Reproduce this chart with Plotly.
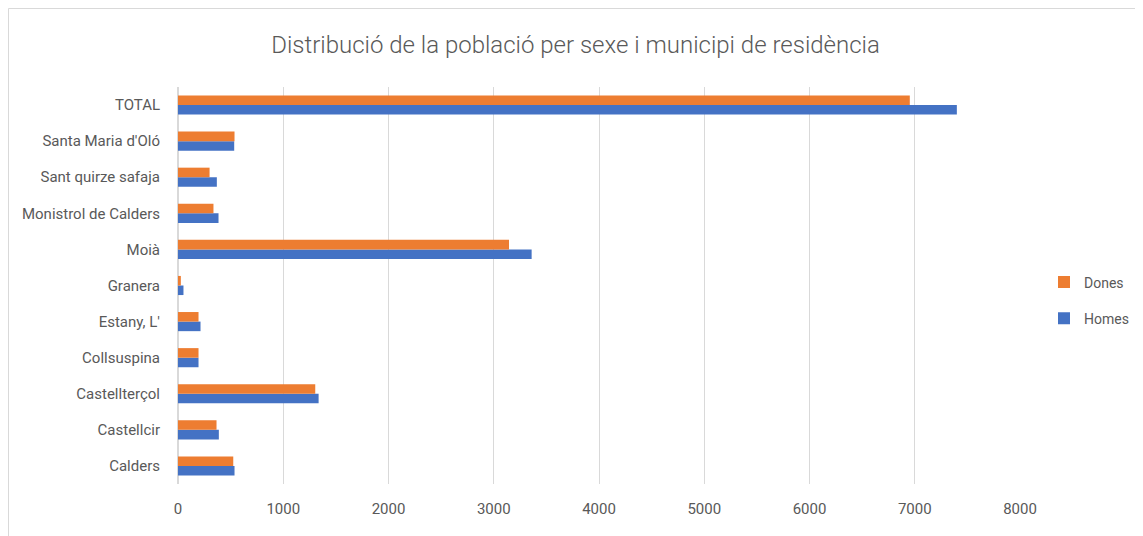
import plotly.graph_objects as go

# municipis (de baix a dalt, com a l'eix del gràfic)
municipis = ["Calders", "Castellcir", "Castellterçol", "Collsuspina", "Estany, L'",
             "Granera", "Moià", "Monistrol de Calders", "Sant quirze safaja",
             "Santa Maria d'Oló", "TOTAL"]
homes = [537, 388, 1336, 195, 214, 52, 3360, 385, 369, 534, 7400]
dones = [525, 366, 1304, 195, 195, 27, 3145, 337, 300, 537, 6953]
ticks_x = [0, 1000, 2000, 3000, 4000, 5000, 6000, 7000, 8000]

FONT = "Roboto, sans-serif"
GRIS = "#595959"

fig = go.Figure()
fig.add_trace(go.Bar(y=municipis, x=homes, name="Homes", orientation="h",
                     legendgroup="h", legendrank=2,
                     marker=dict(color="#4472C4", line=dict(width=0))))
fig.add_trace(go.Bar(y=municipis, x=dones, name="Dones", orientation="h",
                     legendgroup="d", legendrank=1,
                     marker=dict(color="#ED7D31", line=dict(width=0))))

# la pàgina té 8 px de marge al body, per això la figura és més petita
W, H = 1135, 528
l, r, t, b = 170, 123, 79, 52
pw, ph = W - l - r, H - t - b

# marc del gràfic
fig.add_shape(type="rect", xref="paper", yref="paper",
              x0=(0.5 - l) / pw, x1=(W + 5 - l) / pw,
              y0=-(b + 5) / ph, y1=1 + (t - 0.5) / ph,
              line=dict(color="#d9d9d9", width=1), layer="below")

fig.update_layout(
    width=W, height=H,
    margin=dict(l=l, r=r, t=t, b=b, autoexpand=False),
    paper_bgcolor="white", plot_bgcolor="white",
    barmode="group", bargap=0.47, bargroupgap=0,
    font=dict(family=FONT, color=GRIS, size=14),
    title=dict(text="Distribució de la població per sexe i municipi de residència",
               x=0.5, xanchor="center", y=1 - 37 / H, yanchor="middle",
               font=dict(family=FONT, size=24, color=GRIS, weight=300)),
    legend=dict(x=(1036 - l) / pw, y=(H - b - 292.5) / ph, xanchor="left", yanchor="middle",
                traceorder="grouped", font=dict(size=14, color=GRIS),
                itemsizing="constant", tracegroupgap=15, bgcolor="rgba(0,0,0,0)"),
    showlegend=True,
)
fig.update_xaxes(range=[0, 8000], tickvals=ticks_x, showgrid=True, gridcolor="#d9d9d9",
                 gridwidth=1, zeroline=True, zerolinecolor="#d9d9d9", showline=False,
                 ticks="", tickfont=dict(size=15, color=GRIS), ticklabelstandoff=14,
                 automargin=False)
fig.update_yaxes(type="category", showgrid=False, zeroline=False, showline=False,
                 ticks="", tickfont=dict(size=15, color=GRIS), ticklabelstandoff=17,
                 automargin=False)

fig.write_html("out.html")
